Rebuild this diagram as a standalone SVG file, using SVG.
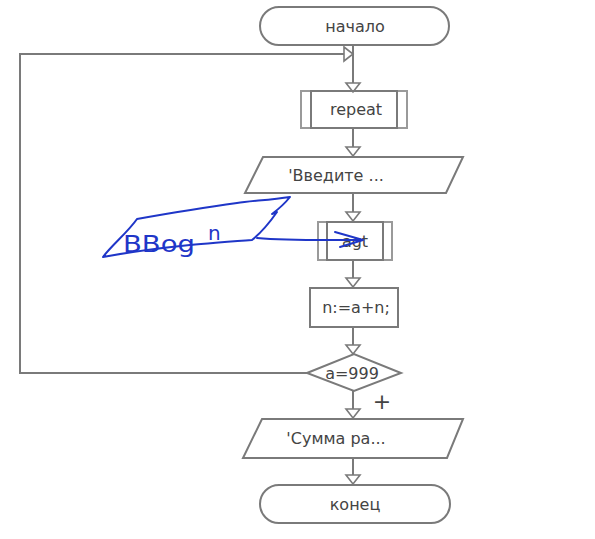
<svg xmlns="http://www.w3.org/2000/svg" width="595" height="539" viewBox="0 0 595 539">
<style>
.sh{fill:#fff;stroke:#7a7a7a;stroke-width:2}
.sub{fill:none;stroke:#9a9a9a;stroke-width:2}
.ln{fill:none;stroke:#7a7a7a;stroke-width:2}
.ah{fill:#fff;stroke:#7a7a7a;stroke-width:1.6}
.t{font-family:"DejaVu Sans",sans-serif;font-size:16px;fill:#444;text-anchor:middle}
.blue{fill:none;stroke:#1f36c8;stroke-width:2;stroke-linecap:round;stroke-linejoin:round}
</style>
<rect width="595" height="539" fill="#fff"/>
<g id="connectors">
<path class="ln" d="M353 45V83M353 128V147M353 193V212M353 260V278M353 327V345M353 391V409M353 458V475"/>
<path class="ln" d="M307 373H20V54H344"/>
<polygon class="ah" points="346,83 360,83 353,92"/>
<polygon class="ah" points="346,147 360,147 353,156"/>
<polygon class="ah" points="346,212 360,212 353,221"/>
<polygon class="ah" points="346,278 360,278 353,287"/>
<polygon class="ah" points="346,345 360,345 353,354"/>
<polygon class="ah" points="346,409 360,409 353,418"/>
<polygon class="ah" points="346,475 360,475 353,484"/>
<polygon class="ah" points="344,47 344,61 353,54"/>
<text class="t" x="382" y="409" style="font-size:22px">+</text>
</g>
<g id="start">
<rect class="sh" x="260" y="7" width="189" height="38" rx="19"/>
<text class="t" x="355" y="32">начало</text>
</g>
<g id="repeat">
<rect class="sub" x="301" y="91" width="106" height="37"/>
<rect class="ln" x="311" y="91" width="86" height="37"/>
<text class="t" x="356" y="115">repeat</text>
</g>
<g id="input1">
<polygon class="sh" points="263,157 463,157 446,193 245,193"/>
<text class="t" x="336" y="181">'Введите ...</text>
</g>
<g id="get">
<rect class="sub" x="318" y="222" width="74" height="38"/>
<rect class="ln" x="327" y="222" width="56" height="38"/>
<text class="t" x="355" y="247">agt</text>
</g>
<g id="assign">
<rect class="sh" x="310" y="288" width="88" height="39"/>
<text class="t" x="356" y="313">n:=a+n;</text>
</g>
<g id="cond">
<polygon class="sh" points="307,373 354,354 401,373 354,391"/>
<text class="t" x="352" y="379">a=999</text>
</g>
<g id="output">
<polygon class="sh" points="262,419 463,419 447,458 243,458"/>
<text class="t" x="336" y="444">'Сумма ра...</text>
</g>
<g id="end">
<rect class="sh" x="260" y="485" width="190" height="38" rx="19"/>
<text class="t" x="355" y="510">конец</text>
</g>
<g id="note">
<path class="blue" d="M290 197C270 200 250 201 237 203C200 208 165 214 137 219C128 232 112 245 103 257C130 252 160 248 190 245C215 243 235 241 252 240C262 232 270 222 277 212L272 214C280 208 286 202 290 197"/>
<path class="blue" d="M257 238C290 241 330 240 363 240M335 232L363 240L340 247"/>
<text x="123" y="252" font-family="'DejaVu Sans',sans-serif" font-size="23" fill="#1f36c8" textLength="72" lengthAdjust="spacingAndGlyphs">ВВоg</text>
<text x="208" y="240" font-family="'DejaVu Sans',sans-serif" font-size="20" fill="#1f36c8">n</text>
</g>
</svg>
